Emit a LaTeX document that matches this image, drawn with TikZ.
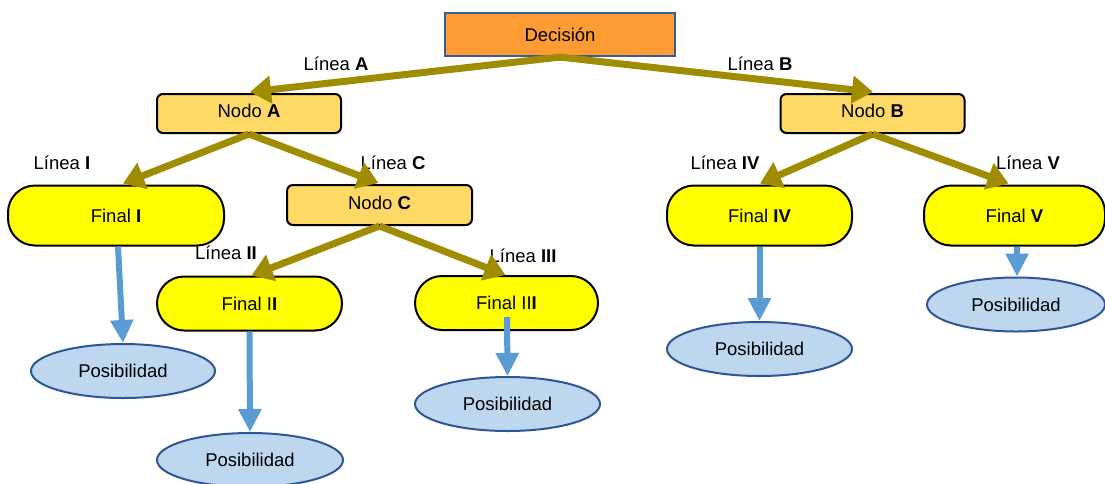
\documentclass[tikz,border=0pt]{standalone}
\usepackage{fontspec}
\setmainfont{Liberation Sans}
\usetikzlibrary{arrows.meta,shapes.geometric,calc}
\definecolor{decfill}{HTML}{FF9B33}
\definecolor{decdraw}{HTML}{3B5B9A}
\definecolor{nodofill}{HTML}{FFD966}
\definecolor{finalfill}{HTML}{FFFF00}
\definecolor{posfill}{HTML}{BDD7EE}
\definecolor{posdraw}{HTML}{2F5597}
\definecolor{branch}{HTML}{A08C00}
\definecolor{flow}{HTML}{5B9BD5}
\tikzset{
  txt/.style={font=\fontsize{18.5}{21}\selectfont, inner sep=0pt},
  decbox/.style={txt, draw=decdraw, fill=decfill, line width=2.2pt,
    minimum width=230pt, minimum height=43pt},
  nodobox/.style={txt, draw=black, fill=nodofill, line width=2pt,
    rounded corners=6pt, minimum width=184pt, minimum height=39pt},
  finalbox/.style={txt, draw=black, fill=finalfill, line width=2pt,
    rounded corners=27pt},
  posbox/.style={txt, ellipse, draw=posdraw, fill=posfill, line width=2pt,
    minimum height=54pt},
  lbl/.style={txt},
  branchline/.style={draw=branch, line width=7pt,
    -{Triangle[width=27pt,length=21pt]}},
  flowline/.style={draw=flow, line width=6pt,
    -{Triangle[width=22pt,length=23pt]}},
}
\begin{document}
\begin{tikzpicture}[x=1pt,y=-1pt]
\useasboundingbox (0,0) rectangle (1105,483);

% decision and intermediate nodes
\node[decbox] (dec) at (560,34.5) {Decisión};
\node[nodobox] (na) at (249,113.5) {\raisebox{5pt}{Nodo \textbf{A}}};
\node[nodobox] (nb) at (872.5,113.5) {\raisebox{5pt}{Nodo \textbf{B}}};
\node[nodobox, minimum width=185pt, minimum height=40pt] (nc) at (379.5,205) {\raisebox{4pt}{Nodo \textbf{C}}};

% end nodes
\node[finalbox, minimum width=216pt, minimum height=60pt] (f1) at (116,215.5) {Final \textbf{I}};
\node[finalbox, minimum width=185pt, minimum height=54pt] (f2) at (249.5,303.5) {Final I\textbf{I}};
\node[finalbox, minimum width=183pt, minimum height=54pt] (f3) at (506.5,303) {Final II\textbf{I}};
\node[finalbox, minimum width=185pt, minimum height=60pt] (f4) at (759.5,215.5) {Final \textbf{IV}};
\node[finalbox, minimum width=181pt, minimum height=60pt] (f5) at (1014.5,215.5) {Final \textbf{V}};

% outcomes
\node[posbox, minimum width=184pt] (p1) at (123,371) {Posibilidad};
\node[posbox, minimum width=186pt] (p2) at (250,460) {Posibilidad};
\node[posbox, minimum width=185pt] (p3) at (507.5,404) {Posibilidad};
\node[posbox, minimum width=185pt] (p4) at (759.5,349) {Posibilidad};
\node[posbox, minimum width=178pt] (p5) at (1016,304.5) {Posibilidad};

% branch labels
\node[lbl] (la) at (336,64) {Línea \textbf{A}};
\node[lbl] (lb) at (760,64) {Línea \textbf{B}};
\node[lbl] (li) at (62,163) {Línea \textbf{I}};
\node[lbl] (lc) at (393,163) {Línea \textbf{C}};
\node[lbl] (lii) at (226,253) {Línea \textbf{II}};
\node[lbl] (liii) at (523,256) {Línea \textbf{III}};
\node[lbl] (liv) at (725,163) {Línea \textbf{IV}};
\node[lbl] (lv) at (1028,163) {Línea \textbf{V}};

% branches
\draw[branchline] (dec.south) -- ($(na.north)+(1,-1)$);
\draw[branchline] (dec.south) -- ($(nb.north)+(0.5,-1)$);
\draw[branchline] (na.south) -- ($(f1.north)+(7,-1)$);
\draw[branchline] (na.south) -- ($(nc.north)+(-1,-1)$);
\draw[branchline] (nc.south) -- ($(f2.north)+(2,0)$);
\draw[branchline] (nc.south) -- ($(f3.north)+(-1,0)$);
\draw[branchline] (nb.south) -- ($(f4.north)+(0.5,-1)$);
\draw[branchline] (nb.south) -- ($(f5.north)+(-6,-1)$);

% outcome arrows
\draw[flowline] ($(f1.south)+(2,0)$) -- (p1.north);
\draw[flowline] (f2.south) -- (p2.north);
\draw[flowline] ($(f3.south)+(0.5,-14)$) -- (p3.north);
\draw[flowline] (f4.south) -- (p4.north);
\draw[flowline] ($(f5.south)+(2.5,0)$) -- ($(p5.north)+(1,0)$);
\end{tikzpicture}
\end{document}
